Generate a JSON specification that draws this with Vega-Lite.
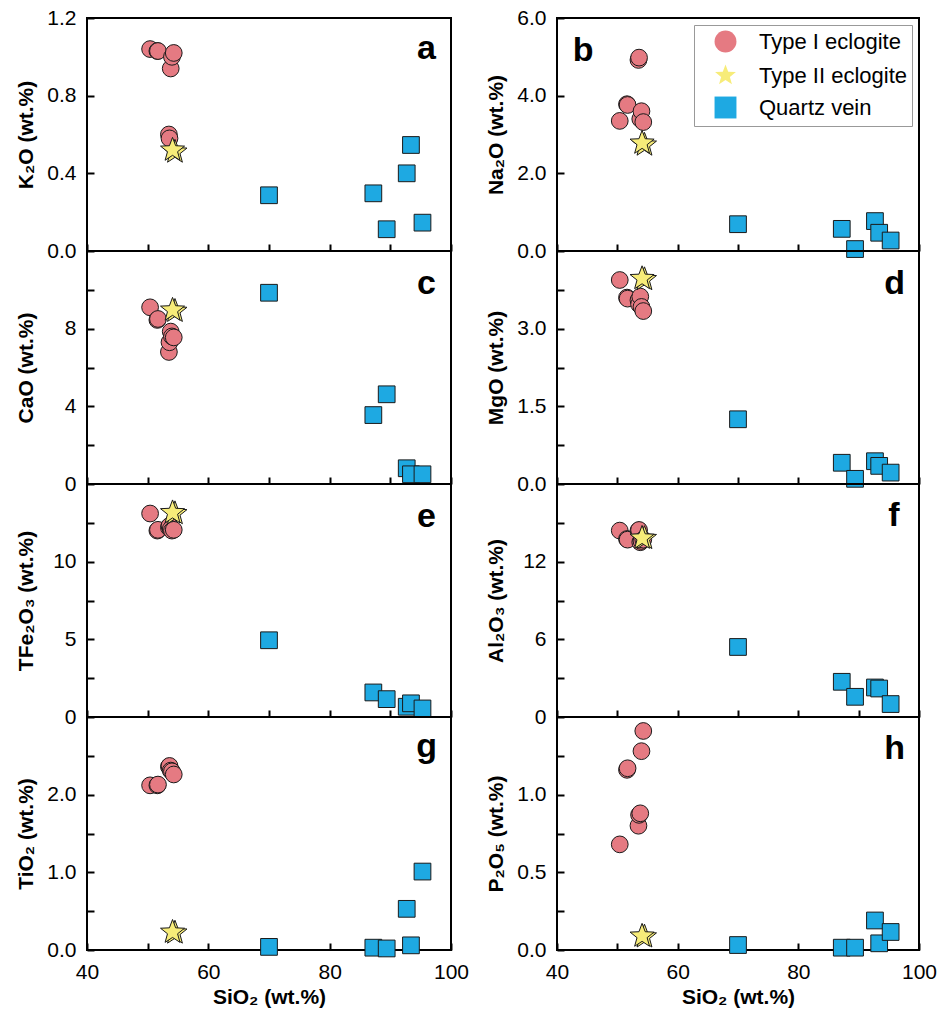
{
  "$schema": "https://vega.github.io/schema/vega-lite/v6.json",
  "padding": {"left": 14, "top": 6, "right": 0, "bottom": 0},
  "background": "white",
  "datasets": {
    "geo": [
      {"type": "Type I eclogite", "SiO2": 50.4, "K2O": 1.04, "Na2O": 3.35, "CaO": 9.1, "MgO": 3.94, "TFe2O3": 13.1, "Al2O3": 14.4, "TiO2": 2.12, "P2O5": 0.68},
      {"type": "Type I eclogite", "SiO2": 51.6, "K2O": 1.03, "Na2O": 3.78, "CaO": 8.45, "MgO": 3.6, "TFe2O3": 12.0, "Al2O3": 13.75, "TiO2": 2.12, "P2O5": 1.16},
      {"type": "Type I eclogite", "SiO2": 51.7, "K2O": 1.03, "Na2O": 3.76, "CaO": 8.5, "MgO": 3.58, "TFe2O3": 12.05, "Al2O3": 13.7, "TiO2": 2.13, "P2O5": 1.17},
      {"type": "Type I eclogite", "SiO2": 53.5, "K2O": 0.6, "Na2O": 4.92, "CaO": 6.8, "MgO": 3.55, "TFe2O3": 12.2, "Al2O3": 14.4, "TiO2": 2.36, "P2O5": 0.8},
      {"type": "Type I eclogite", "SiO2": 53.6, "K2O": 0.58, "Na2O": 4.98, "CaO": 7.3, "MgO": 3.47, "TFe2O3": 12.3, "Al2O3": 14.45, "TiO2": 2.37, "P2O5": 0.87},
      {"type": "Type I eclogite", "SiO2": 53.8, "K2O": 0.94, "Na2O": 3.4, "CaO": 7.85, "MgO": 3.62, "TFe2O3": 12.1, "Al2O3": 13.5, "TiO2": 2.31, "P2O5": 0.88},
      {"type": "Type I eclogite", "SiO2": 54.0, "K2O": 1.0, "Na2O": 3.6, "CaO": 7.6, "MgO": 3.42, "TFe2O3": 12.0, "Al2O3": 13.6, "TiO2": 2.3, "P2O5": 1.28},
      {"type": "Type I eclogite", "SiO2": 54.3, "K2O": 1.02, "Na2O": 3.32, "CaO": 7.55, "MgO": 3.34, "TFe2O3": 12.05, "Al2O3": 13.7, "TiO2": 2.26, "P2O5": 1.41},
      {"type": "Type II eclogite", "SiO2": 54.5, "K2O": 0.51, "Na2O": 2.73, "CaO": 8.9, "MgO": 3.95, "TFe2O3": 13.1, "Al2O3": 13.8, "TiO2": 0.22, "P2O5": 0.085},
      {"type": "Type II eclogite", "SiO2": 54.1, "K2O": 0.52, "Na2O": 2.78, "CaO": 8.96, "MgO": 3.97, "TFe2O3": 13.16, "Al2O3": 13.82, "TiO2": 0.23, "P2O5": 0.09},
      {"type": "Quartz vein", "SiO2": 70.0, "K2O": 0.287, "Na2O": 0.69, "CaO": 9.85, "MgO": 1.25, "TFe2O3": 4.94, "Al2O3": 5.41, "TiO2": 0.04, "P2O5": 0.032},
      {"type": "Quartz vein", "SiO2": 87.2, "K2O": 0.297, "Na2O": 0.57, "CaO": 3.55, "MgO": 0.41, "TFe2O3": 1.58, "Al2O3": 2.72, "TiO2": 0.03, "P2O5": 0.015},
      {"type": "Quartz vein", "SiO2": 89.4, "K2O": 0.112, "Na2O": 0.05, "CaO": 4.62, "MgO": 0.1, "TFe2O3": 1.15, "Al2O3": 1.56, "TiO2": 0.02, "P2O5": 0.015},
      {"type": "Quartz vein", "SiO2": 92.7, "K2O": 0.4, "Na2O": 0.77, "CaO": 0.81, "MgO": 0.44, "TFe2O3": 0.66, "Al2O3": 2.28, "TiO2": 0.53, "P2O5": 0.19},
      {"type": "Quartz vein", "SiO2": 93.4, "K2O": 0.546, "Na2O": 0.47, "CaO": 0.5, "MgO": 0.35, "TFe2O3": 0.88, "Al2O3": 2.2, "TiO2": 0.06, "P2O5": 0.043},
      {"type": "Quartz vein", "SiO2": 95.3, "K2O": 0.146, "Na2O": 0.27, "CaO": 0.5, "MgO": 0.22, "TFe2O3": 0.55, "Al2O3": 1.0, "TiO2": 1.01, "P2O5": 0.116}
    ]
  },
  "config": {
    "font": "Liberation Sans",
    "view": {"stroke": "black", "strokeWidth": 2},
    "axis": {
      "grid": false, "domain": false,
      "tickColor": "black", "tickWidth": 2, "tickSize": 7, "offset": -7,
      "labelFont": "Liberation Sans", "labelFontSize": 21, "labelColor": "black",
      "labelFlush": false, "labelOverlap": false, "labelPadding": 11,
      "titleFont": "Liberation Sans", "titleFontSize": 21, "titleFontWeight": "bold", "titleColor": "black"
    },
    "axisY": {"minExtent": 48, "maxExtent": 48, "titlePadding": 10},
    "text": {"font": "Liberation Sans", "fontWeight": "bold", "fontSize": 34, "color": "black", "baseline": "alphabetic"}
  },
  "columns": 2,
  "bounds": "flush",
  "spacing": {"row": 0, "column": 106},
  "resolve": {
    "scale": {"fill": "independent", "shape": "independent"},
    "legend": {"fill": "independent", "shape": "independent"}
  },
  "concat": [
    {
      "width": 364, "height": 233,
      "layer": [
        {"data": {"name": "geo"},
         "mark": {"type": "point", "filled": true, "stroke": "#1a1a1a", "strokeWidth": 1, "opacity": 1},
         "encoding": {
           "x": {"field": "SiO2", "type": "quantitative", "scale": {"domain": [40, 100], "nice": false, "zero": false}, "axis": {"values": [40, 50, 60, 70, 80, 90, 100], "labels": false, "title": null}},
           "y": {"field": "K2O", "type": "quantitative", "scale": {"domain": [0, 1.2], "nice": false}, "axis": {"values": [0, 0.2, 0.4, 0.6, 0.8, 1.0, 1.2], "format": ".1f", "labelExpr": "datum.value == 0 || datum.value == 0.4 || datum.value == 0.8 || datum.value == 1.2 ? datum.label : ''", "title": "K₂O (wt.%)"}},
           "fill": {"field": "type", "type": "nominal", "scale": {"domain": ["Type I eclogite", "Type II eclogite", "Quartz vein"], "range": ["#E57A82", "#F7EC79", "#1EA9E2"]}, "legend": null},
           "shape": {"field": "type", "type": "nominal", "scale": {"domain": ["Type I eclogite", "Type II eclogite", "Quartz vein"], "range": ["circle", "M0,-1L0.247,-0.34L0.951,-0.309L0.399,0.13L0.588,0.809L0,0.42L-0.588,0.809L-0.399,0.13L-0.951,-0.309L-0.247,-0.34Z", "square"]}, "legend": null},
           "size": {"condition": {"test": "datum.type == 'Type II eclogite'", "value": 640}, "value": 280}
         }},
        {"data": {"values": [{"letter": "a"}]},
         "mark": {"type": "text", "align": "right"},
         "encoding": {"x": {"datum": 97.5, "type": "quantitative"}, "y": {"datum": 0.99, "type": "quantitative"}, "text": {"field": "letter"}}}
      ]
    },
    {
      "width": 362, "height": 233,
      "layer": [
        {"data": {"name": "geo"},
         "mark": {"type": "point", "filled": true, "stroke": "#1a1a1a", "strokeWidth": 1, "opacity": 1},
         "encoding": {
           "x": {"field": "SiO2", "type": "quantitative", "scale": {"domain": [40, 100], "nice": false, "zero": false}, "axis": {"values": [40, 50, 60, 70, 80, 90, 100], "labels": false, "title": null}},
           "y": {"field": "Na2O", "type": "quantitative", "scale": {"domain": [0, 6], "nice": false}, "axis": {"values": [0, 1, 2, 3, 4, 5, 6], "format": ".1f", "labelExpr": "datum.value == 0 || datum.value == 2 || datum.value == 4 || datum.value == 6 ? datum.label : ''", "title": "Na₂O (wt.%)"}},
           "fill": {"field": "type", "type": "nominal", "scale": {"domain": ["Type I eclogite", "Type II eclogite", "Quartz vein"], "range": ["#E57A82", "#F7EC79", "#1EA9E2"]},
             "legend": {"title": null, "orient": "top-right", "offset": 7, "padding": 5, "symbolOffset": 15, "labelOffset": 22, "rowPadding": 7, "labelFontSize": 22, "labelFont": "Liberation Sans", "labelColor": "black", "symbolSize": 480, "symbolStrokeColor": "#1a1a1a", "symbolStrokeWidth": 1, "strokeColor": "#999999", "fillColor": "white", "labelLimit": 300,
               "encode": {"symbols": {"update": {"stroke": {"value": "#1a1a1a"}, "strokeWidth": {"value": 1}, "size": {"signal": "datum.value == 'Type II eclogite' ? 700 : (datum.value == 'Quartz vein' ? 300 : 480)"}}}}}},
           "shape": {"field": "type", "type": "nominal", "scale": {"domain": ["Type I eclogite", "Type II eclogite", "Quartz vein"], "range": ["circle", "M0,-1L0.247,-0.34L0.951,-0.309L0.399,0.13L0.588,0.809L0,0.42L-0.588,0.809L-0.399,0.13L-0.951,-0.309L-0.247,-0.34Z", "square"]},
             "legend": {"title": null, "orient": "top-right", "offset": 7, "padding": 5, "symbolOffset": 15, "labelOffset": 22, "rowPadding": 7, "labelFontSize": 22, "labelFont": "Liberation Sans", "labelColor": "black", "symbolSize": 480, "symbolStrokeColor": "#1a1a1a", "symbolStrokeWidth": 1, "strokeColor": "#999999", "fillColor": "white", "labelLimit": 300,
               "encode": {"symbols": {"update": {"stroke": {"value": "#1a1a1a"}, "strokeWidth": {"value": 1}, "size": {"signal": "datum.value == 'Type II eclogite' ? 700 : (datum.value == 'Quartz vein' ? 300 : 480)"}}}}}},
           "size": {"condition": {"test": "datum.type == 'Type II eclogite'", "value": 640}, "value": 280}
         }},
        {"data": {"values": [{"letter": "b"}]},
         "mark": {"type": "text", "align": "left"},
         "encoding": {"x": {"datum": 42.6, "type": "quantitative"}, "y": {"datum": 4.89, "type": "quantitative"}, "text": {"field": "letter"}}}
      ]
    },
    {
      "width": 364, "height": 233,
      "layer": [
        {"data": {"name": "geo"},
         "mark": {"type": "point", "filled": true, "stroke": "#1a1a1a", "strokeWidth": 1, "opacity": 1},
         "encoding": {
           "x": {"field": "SiO2", "type": "quantitative", "scale": {"domain": [40, 100], "nice": false, "zero": false}, "axis": {"values": [40, 50, 60, 70, 80, 90, 100], "labels": false, "title": null}},
           "y": {"field": "CaO", "type": "quantitative", "scale": {"domain": [0, 12], "nice": false}, "axis": {"values": [0, 2, 4, 6, 8, 10], "format": "d", "labelExpr": "datum.value == 0 || datum.value == 4 || datum.value == 8 ? datum.label : ''", "title": "CaO (wt.%)"}},
           "fill": {"field": "type", "type": "nominal", "scale": {"domain": ["Type I eclogite", "Type II eclogite", "Quartz vein"], "range": ["#E57A82", "#F7EC79", "#1EA9E2"]}, "legend": null},
           "shape": {"field": "type", "type": "nominal", "scale": {"domain": ["Type I eclogite", "Type II eclogite", "Quartz vein"], "range": ["circle", "M0,-1L0.247,-0.34L0.951,-0.309L0.399,0.13L0.588,0.809L0,0.42L-0.588,0.809L-0.399,0.13L-0.951,-0.309L-0.247,-0.34Z", "square"]}, "legend": null},
           "size": {"condition": {"test": "datum.type == 'Type II eclogite'", "value": 640}, "value": 280}
         }},
        {"data": {"values": [{"letter": "c"}]},
         "mark": {"type": "text", "align": "right"},
         "encoding": {"x": {"datum": 97.5, "type": "quantitative"}, "y": {"datum": 9.8, "type": "quantitative"}, "text": {"field": "letter"}}}
      ]
    },
    {
      "width": 362, "height": 233,
      "layer": [
        {"data": {"name": "geo"},
         "mark": {"type": "point", "filled": true, "stroke": "#1a1a1a", "strokeWidth": 1, "opacity": 1},
         "encoding": {
           "x": {"field": "SiO2", "type": "quantitative", "scale": {"domain": [40, 100], "nice": false, "zero": false}, "axis": {"values": [40, 50, 60, 70, 80, 90, 100], "labels": false, "title": null}},
           "y": {"field": "MgO", "type": "quantitative", "scale": {"domain": [0, 4.5], "nice": false}, "axis": {"values": [0, 0.75, 1.5, 2.25, 3, 3.75], "format": ".1f", "labelExpr": "datum.value == 0 || datum.value == 1.5 || datum.value == 3 ? datum.label : ''", "title": "MgO (wt.%)"}},
           "fill": {"field": "type", "type": "nominal", "scale": {"domain": ["Type I eclogite", "Type II eclogite", "Quartz vein"], "range": ["#E57A82", "#F7EC79", "#1EA9E2"]}, "legend": null},
           "shape": {"field": "type", "type": "nominal", "scale": {"domain": ["Type I eclogite", "Type II eclogite", "Quartz vein"], "range": ["circle", "M0,-1L0.247,-0.34L0.951,-0.309L0.399,0.13L0.588,0.809L0,0.42L-0.588,0.809L-0.399,0.13L-0.951,-0.309L-0.247,-0.34Z", "square"]}, "legend": null},
           "size": {"condition": {"test": "datum.type == 'Type II eclogite'", "value": 640}, "value": 280}
         }},
        {"data": {"values": [{"letter": "d"}]},
         "mark": {"type": "text", "align": "right"},
         "encoding": {"x": {"datum": 97.7, "type": "quantitative"}, "y": {"datum": 3.66, "type": "quantitative"}, "text": {"field": "letter"}}}
      ]
    },
    {
      "width": 364, "height": 233,
      "layer": [
        {"data": {"name": "geo"},
         "mark": {"type": "point", "filled": true, "stroke": "#1a1a1a", "strokeWidth": 1, "opacity": 1},
         "encoding": {
           "x": {"field": "SiO2", "type": "quantitative", "scale": {"domain": [40, 100], "nice": false, "zero": false}, "axis": {"values": [40, 50, 60, 70, 80, 90, 100], "labels": false, "title": null}},
           "y": {"field": "TFe2O3", "type": "quantitative", "scale": {"domain": [0, 15], "nice": false}, "axis": {"values": [0, 2.5, 5, 7.5, 10, 12.5], "format": "d", "labelExpr": "datum.value == 0 || datum.value == 5 || datum.value == 10 ? datum.label : ''", "title": "TFe₂O₃ (wt.%)"}},
           "fill": {"field": "type", "type": "nominal", "scale": {"domain": ["Type I eclogite", "Type II eclogite", "Quartz vein"], "range": ["#E57A82", "#F7EC79", "#1EA9E2"]}, "legend": null},
           "shape": {"field": "type", "type": "nominal", "scale": {"domain": ["Type I eclogite", "Type II eclogite", "Quartz vein"], "range": ["circle", "M0,-1L0.247,-0.34L0.951,-0.309L0.399,0.13L0.588,0.809L0,0.42L-0.588,0.809L-0.399,0.13L-0.951,-0.309L-0.247,-0.34Z", "square"]}, "legend": null},
           "size": {"condition": {"test": "datum.type == 'Type II eclogite'", "value": 640}, "value": 280}
         }},
        {"data": {"values": [{"letter": "e"}]},
         "mark": {"type": "text", "align": "right"},
         "encoding": {"x": {"datum": 97.5, "type": "quantitative"}, "y": {"datum": 12.2, "type": "quantitative"}, "text": {"field": "letter"}}}
      ]
    },
    {
      "width": 362, "height": 233,
      "layer": [
        {"data": {"name": "geo"},
         "mark": {"type": "point", "filled": true, "stroke": "#1a1a1a", "strokeWidth": 1, "opacity": 1},
         "encoding": {
           "x": {"field": "SiO2", "type": "quantitative", "scale": {"domain": [40, 100], "nice": false, "zero": false}, "axis": {"values": [40, 50, 60, 70, 80, 90, 100], "labels": false, "title": null}},
           "y": {"field": "Al2O3", "type": "quantitative", "scale": {"domain": [0, 18], "nice": false}, "axis": {"values": [0, 3, 6, 9, 12, 15], "format": "d", "labelExpr": "datum.value == 0 || datum.value == 6 || datum.value == 12 ? datum.label : ''", "title": "Al₂O₃ (wt.%)"}},
           "fill": {"field": "type", "type": "nominal", "scale": {"domain": ["Type I eclogite", "Type II eclogite", "Quartz vein"], "range": ["#E57A82", "#F7EC79", "#1EA9E2"]}, "legend": null},
           "shape": {"field": "type", "type": "nominal", "scale": {"domain": ["Type I eclogite", "Type II eclogite", "Quartz vein"], "range": ["circle", "M0,-1L0.247,-0.34L0.951,-0.309L0.399,0.13L0.588,0.809L0,0.42L-0.588,0.809L-0.399,0.13L-0.951,-0.309L-0.247,-0.34Z", "square"]}, "legend": null},
           "size": {"condition": {"test": "datum.type == 'Type II eclogite'", "value": 640}, "value": 280}
         }},
        {"data": {"values": [{"letter": "f"}]},
         "mark": {"type": "text", "align": "right"},
         "encoding": {"x": {"datum": 96.8, "type": "quantitative"}, "y": {"datum": 14.76, "type": "quantitative"}, "text": {"field": "letter"}}}
      ]
    },
    {
      "width": 364, "height": 233,
      "layer": [
        {"data": {"name": "geo"},
         "mark": {"type": "point", "filled": true, "stroke": "#1a1a1a", "strokeWidth": 1, "opacity": 1},
         "encoding": {
           "x": {"field": "SiO2", "type": "quantitative", "scale": {"domain": [40, 100], "nice": false, "zero": false}, "axis": {"values": [40, 50, 60, 70, 80, 90, 100], "format": "d", "labelExpr": "datum.value == 40 || datum.value == 60 || datum.value == 80 || datum.value == 100 ? datum.label : ''", "title": "SiO₂ (wt.%)", "minExtent": 37, "maxExtent": 37, "titlePadding": 6}},
           "y": {"field": "TiO2", "type": "quantitative", "scale": {"domain": [0, 3], "nice": false}, "axis": {"values": [0, 0.5, 1, 1.5, 2, 2.5], "format": ".1f", "labelExpr": "datum.value == 0 || datum.value == 1 || datum.value == 2 ? datum.label : ''", "title": "TiO₂ (wt.%)"}},
           "fill": {"field": "type", "type": "nominal", "scale": {"domain": ["Type I eclogite", "Type II eclogite", "Quartz vein"], "range": ["#E57A82", "#F7EC79", "#1EA9E2"]}, "legend": null},
           "shape": {"field": "type", "type": "nominal", "scale": {"domain": ["Type I eclogite", "Type II eclogite", "Quartz vein"], "range": ["circle", "M0,-1L0.247,-0.34L0.951,-0.309L0.399,0.13L0.588,0.809L0,0.42L-0.588,0.809L-0.399,0.13L-0.951,-0.309L-0.247,-0.34Z", "square"]}, "legend": null},
           "size": {"condition": {"test": "datum.type == 'Type II eclogite'", "value": 640}, "value": 280}
         }},
        {"data": {"values": [{"letter": "g"}]},
         "mark": {"type": "text", "align": "right"},
         "encoding": {"x": {"datum": 97.7, "type": "quantitative"}, "y": {"datum": 2.49, "type": "quantitative"}, "text": {"field": "letter"}}}
      ]
    },
    {
      "width": 362, "height": 233,
      "layer": [
        {"data": {"name": "geo"},
         "mark": {"type": "point", "filled": true, "stroke": "#1a1a1a", "strokeWidth": 1, "opacity": 1},
         "encoding": {
           "x": {"field": "SiO2", "type": "quantitative", "scale": {"domain": [40, 100], "nice": false, "zero": false}, "axis": {"values": [40, 50, 60, 70, 80, 90, 100], "format": "d", "labelExpr": "datum.value == 40 || datum.value == 60 || datum.value == 80 || datum.value == 100 ? datum.label : ''", "title": "SiO₂ (wt.%)", "minExtent": 37, "maxExtent": 37, "titlePadding": 6}},
           "y": {"field": "P2O5", "type": "quantitative", "scale": {"domain": [0, 1.5], "nice": false}, "axis": {"values": [0, 0.25, 0.5, 0.75, 1, 1.25], "format": ".1f", "labelExpr": "datum.value == 0 || datum.value == 0.5 || datum.value == 1 ? datum.label : ''", "title": "P₂O₅ (wt.%)"}},
           "fill": {"field": "type", "type": "nominal", "scale": {"domain": ["Type I eclogite", "Type II eclogite", "Quartz vein"], "range": ["#E57A82", "#F7EC79", "#1EA9E2"]}, "legend": null},
           "shape": {"field": "type", "type": "nominal", "scale": {"domain": ["Type I eclogite", "Type II eclogite", "Quartz vein"], "range": ["circle", "M0,-1L0.247,-0.34L0.951,-0.309L0.399,0.13L0.588,0.809L0,0.42L-0.588,0.809L-0.399,0.13L-0.951,-0.309L-0.247,-0.34Z", "square"]}, "legend": null},
           "size": {"condition": {"test": "datum.type == 'Type II eclogite'", "value": 640}, "value": 280}
         }},
        {"data": {"values": [{"letter": "h"}]},
         "mark": {"type": "text", "align": "right"},
         "encoding": {"x": {"datum": 97.7, "type": "quantitative"}, "y": {"datum": 1.23, "type": "quantitative"}, "text": {"field": "letter"}}}
      ]
    }
  ]
}
